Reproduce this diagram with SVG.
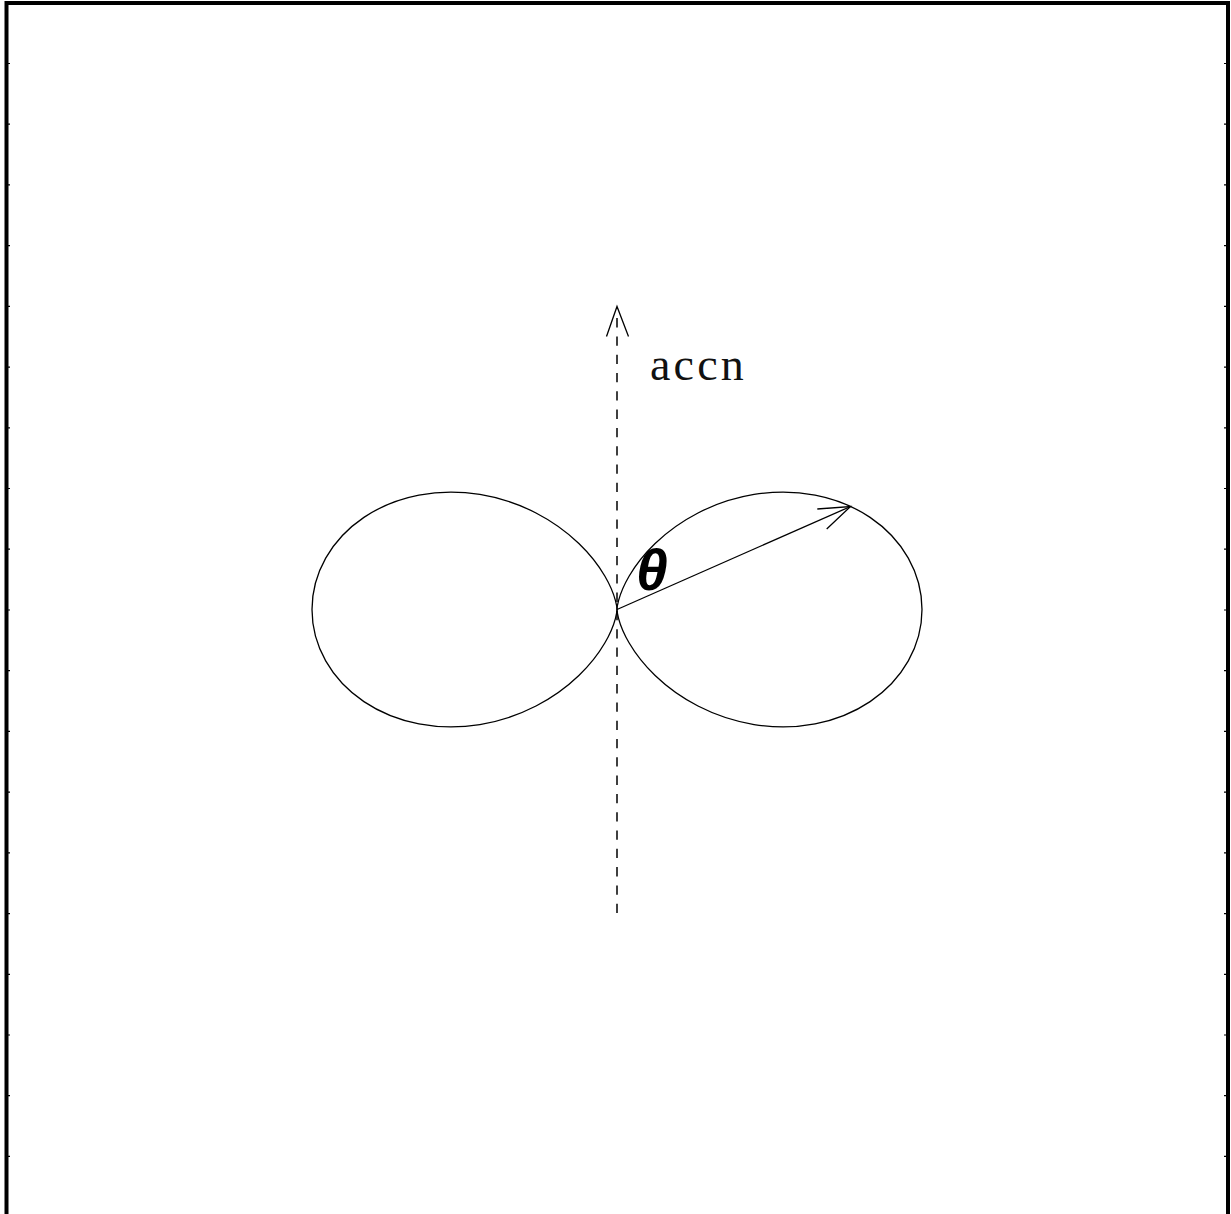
<svg xmlns="http://www.w3.org/2000/svg" width="1231" height="1214" viewBox="0 0 1231 1214">
<defs>
<style>
.frame{fill:none;stroke:#000;stroke-width:4}
.tick{stroke:#000;stroke-width:1.2}
.curve{fill:none;stroke:#000;stroke-width:1.3}
.axis{fill:none;stroke:#000;stroke-width:1.5;stroke-dasharray:9.3 9}
.head{fill:none;stroke:#000;stroke-width:1.3}
</style>
<path id="lobe" d="M0,0 C0,0 0.016,-3.173 1.597,-9.057 C3.178,-14.941 6.351,-23.518 12.203,-33.526 C18.055,-43.534 26.6,-54.945 38.125,-66.035 C49.65,-77.125 64.155,-87.862 81.004,-96.536 C97.853,-105.21 117.027,-111.791 137.107,-115.047 C157.187,-118.303 178.142,-118.217 198.104,-114.375 C218.066,-110.533 237.002,-102.935 253.079,-92.113 C269.156,-81.291 282.345,-67.26 291.31,-51.366 C300.275,-35.472 305,-17.744 305,0 C305,17.744 300.275,35.472 291.31,51.366 C282.345,67.26 269.156,81.291 253.079,92.113 C237.002,102.935 218.066,110.533 198.104,114.375 C178.142,118.217 157.187,118.303 137.107,115.047 C117.027,111.791 97.853,105.21 81.004,96.536 C64.155,87.862 49.65,77.125 38.125,66.035 C26.6,54.945 18.055,43.534 12.203,33.526 C6.351,23.518 3.178,14.941 1.597,9.057 C0.016,3.173 0,0 0,0 Z"/>
</defs>
<rect width="1231" height="1214" fill="#fff"/>
<g id="frame">
<path class="frame" d="M6.5,1214 V3 H1228 V1214"/>
<path class="tick" d="M8,63.5H10M8,124.2H10M8,184.9H10M8,245.6H10M8,306.4H10M8,367.1H10M8,427.8H10M8,488.5H10M8,549.2H10M8,610H10M8,670.7H10M8,731.4H10M8,792.1H10M8,852.8H10M8,913.6H10M8,974.3H10M8,1035H10M8,1095.7H10M8,1156.4H10"/>
<path class="tick" d="M1226,63.5H1224M1226,124.2H1224M1226,184.9H1224M1226,245.6H1224M1226,306.4H1224M1226,367.1H1224M1226,427.8H1224M1226,488.5H1224M1226,549.2H1224M1226,610H1224M1226,670.7H1224M1226,731.4H1224M1226,792.1H1224M1226,852.8H1224M1226,913.6H1224M1226,974.3H1224M1226,1035H1224M1226,1095.7H1224M1226,1156.4H1224"/>
</g>
<g id="lobe-right">
<use href="#lobe" class="curve" transform="translate(617,609.5)"/>
</g>
<g id="lobe-left">
<use href="#lobe" class="curve" transform="translate(617,609.5) scale(-1,1)"/>
</g>
<g id="connectors">
<path class="axis" d="M617,913 V308"/>
<path class="head" d="M606.5,336.5 L617,306.5 L628.5,336.5"/>
<path class="head" d="M617,609.5 L850.5,506.5"/>
<path class="head" d="M817.3,509 L850.5,506.5 L826.7,529"/>
</g>
<g id="label-accn">
<text x="650" y="380" font-family="Liberation Serif, serif" font-size="46" letter-spacing="3.2" fill="#111">accn</text>
</g>
<g id="label-theta">
<text x="636" y="590" font-family="Liberation Sans, sans-serif" font-size="57" font-style="italic" font-weight="bold">θ</text>
</g>
</svg>
